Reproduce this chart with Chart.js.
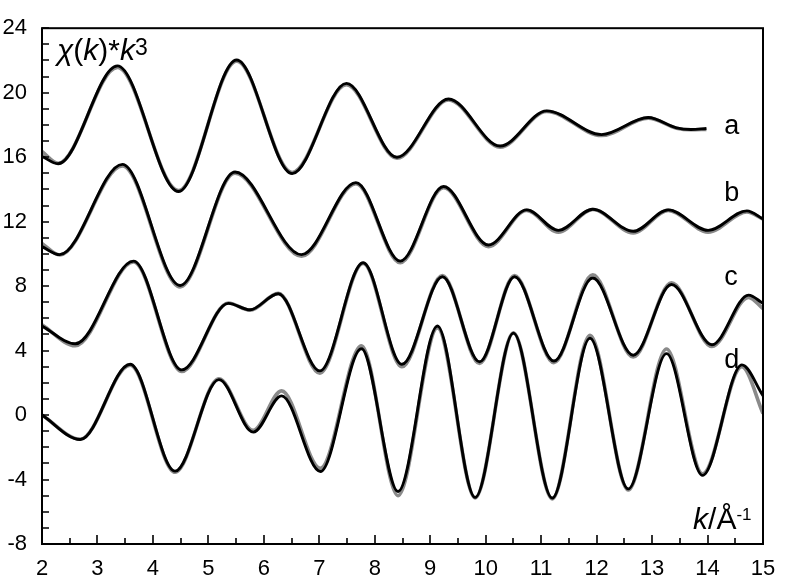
<!DOCTYPE html>
<html><head><meta charset="utf-8">
<script src="https://cdn.jsdelivr.net/npm/chart.js@4"></script>
<style>html,body{margin:0;padding:0;background:#fff}</style>
</head><body>
<canvas id="c" width="794" height="584"></canvas>
<script>
// ---- data ----
const kA   = [2.0, 2.29, 3.36, 4.46, 5.51, 6.51, 7.49, 8.40, 9.33, 10.26, 11.10, 12.09, 12.93, 13.44, 13.70, 13.98];
const expA = [16.05, 15.59, 21.66, 13.87, 22.03, 14.98, 20.58, 15.99, 19.61, 16.69, 18.87, 17.40, 18.46, 17.82, 17.72, 17.78];
const fitA = [16.35, 15.62, 21.56, 13.93, 21.95, 15.05, 20.50, 15.93, 19.55, 16.62, 18.83, 17.34, 18.42, 17.80, 17.70, 17.72];

const kB   = [2.0, 2.32, 3.45, 4.49, 5.48, 6.68, 7.66, 8.46, 9.24, 10.05, 10.74, 11.31, 11.93, 12.66, 13.29, 14.01, 14.71, 15.0];
const expB = [10.45, 9.95, 15.55, 8.04, 15.08, 9.95, 14.42, 9.55, 14.18, 10.55, 12.73, 11.46, 12.77, 11.40, 12.73, 11.46, 12.67, 12.17];
const fitB = [10.65, 9.93, 15.45, 7.95, 15.00, 9.85, 14.35, 9.45, 14.10, 10.45, 12.70, 11.35, 12.75, 11.30, 12.70, 11.35, 12.60, 12.15];

const kC   = [2.0, 2.60, 3.65, 4.52, 5.36, 5.75, 6.26, 7.01, 7.79, 8.49, 9.22, 9.89, 10.52, 11.23, 11.93, 12.66, 13.35, 14.08, 14.74, 15.0];
const expC = [5.52, 4.42, 9.55, 2.80, 6.93, 6.53, 7.53, 2.74, 9.45, 3.15, 8.58, 3.31, 8.58, 3.35, 8.50, 3.71, 8.10, 4.36, 7.44, 6.93];
const fitC = [5.60, 4.30, 9.50, 2.70, 6.95, 6.50, 7.55, 2.60, 9.40, 3.00, 8.65, 3.20, 8.65, 3.25, 8.70, 3.60, 8.20, 4.25, 7.30, 6.60];

const kD   = [2.0, 2.69, 3.59, 4.40, 5.19, 5.81, 6.32, 7.02, 7.76, 8.42, 9.13, 9.81, 10.50, 11.20, 11.88, 12.57, 13.26, 13.91, 14.62, 15.0];
const expD = [0.0, -1.52, 3.15, -3.48, 2.20, -1.06, 1.19, -3.50, 4.11, -4.74, 5.52, -5.11, 5.08, -5.15, 4.76, -4.58, 3.81, -3.74, 3.11, 1.20];
const fitD = [0.0, -1.50, 3.10, -3.55, 2.25, -0.95, 1.50, -3.30, 4.30, -5.00, 5.40, -5.15, 5.10, -5.20, 4.95, -4.65, 4.10, -3.65, 3.00, 0.10];

const curveNames = ['a', 'b', 'c', 'd'];
const xMin = 2, xMax = 15, xStep = 1;
const yMin = -8, yMax = 24, yStep = 4;

// ---- build ----
const FONT = '"Liberation Sans", Arial, Helvetica, sans-serif';
const toPts = (ks, ys) => ks.map((k, i) => ({x: k, y: ys[i]}));
const series = [[kA, expA, fitA], [kB, expB, fitB], [kC, expC, fitC], [kD, expD, fitD]];
const datasets = [];
series.forEach((s, i) => datasets.push({label: curveNames[i] + ' fit', data: toPts(s[0], s[2]), order: 2,
  borderColor: '#8a8a8a', borderWidth: 3.6, pointRadius: 0, cubicInterpolationMode: 'monotone', fill: false}));
series.forEach((s, i) => datasets.push({label: curveNames[i], data: toPts(s[0], s[1]), order: 1,
  borderColor: '#000', borderWidth: 2.9, pointRadius: 0, cubicInterpolationMode: 'monotone', fill: false}));

function rich(ctx, x, y, parts) {
  ctx.textBaseline = 'alphabetic'; ctx.textAlign = 'left';
  for (const p of parts) {
    ctx.font = p.f;
    ctx.fillText(p.t, x, y + (p.dy || 0));
    x += ctx.measureText(p.t).width;
  }
}

const decor = {
  id: 'decor',
  afterDatasetsDraw(chart) {
    const {ctx, chartArea: a, scales: {x, y}} = chart;
    ctx.save();
    ctx.strokeStyle = '#000'; ctx.lineWidth = 2;
    ctx.strokeRect(a.left, a.top, a.right - a.left, a.bottom - a.top);
    ctx.lineWidth = 1.6;
    ctx.beginPath();
    for (let v = xMin; v <= xMax + 1e-9; v += 0.5) {
      const px = Math.round(x.getPixelForValue(v));
      const len = Math.abs(v - Math.round(v)) < 1e-6 ? 9 : 6;
      ctx.moveTo(px, a.bottom); ctx.lineTo(px, a.bottom - len);
    }
    for (let v = yMin; v <= yMax + 1e-9; v += 1) {
      const py = Math.round(y.getPixelForValue(v));
      ctx.moveTo(a.left, py); ctx.lineTo(a.left + 7, py);
    }
    ctx.stroke();
    ctx.fillStyle = '#000';
    // curve labels
    ctx.font = '27px ' + FONT; ctx.textAlign = 'left'; ctx.textBaseline = 'alphabetic';
    const lx = x.getPixelForValue(14.3);
    const lb = [17.42, 13.25, 8.06, 2.93];
    curveNames.forEach((n, i) => ctx.fillText(n, lx, y.getPixelForValue(lb[i])));
    // y title
    const it = 'italic 30px ' + FONT, nf = '30px ' + FONT;
    rich(ctx, x.getPixelForValue(2.27), y.getPixelForValue(22.0), [
      {t: 'χ', f: it}, {t: '(', f: nf}, {t: 'k', f: it}, {t: ')', f: nf}, {t: '*', f: nf},
      {t: 'k', f: it}, {t: '3', f: '23px ' + FONT, dy: -5}]);
    // x title
    rich(ctx, x.getPixelForValue(13.74), y.getPixelForValue(-7.04), [
      {t: 'k', f: it}, {t: '/Å', f: nf}, {t: '-1', f: '17px ' + FONT, dy: -9}]);
    ctx.restore();
  }
};

new Chart(document.getElementById('c'), {
  type: 'line',
  data: {datasets},
  options: {
    responsive: false, animation: false, devicePixelRatio: 1,
    layout: {padding: {left: 0, top: 14, right: 31, bottom: 0}},
    plugins: {legend: {display: false}, tooltip: {enabled: false}},
    scales: {
      x: {type: 'linear', min: xMin, max: xMax,
        ticks: {stepSize: xStep, color: '#000', font: {family: FONT, size: 22}, padding: 12, maxRotation: 0, autoSkip: false},
        grid: {display: false, drawTicks: false}, border: {display: false},
        afterFit: s => { s.height = 40; }},
      y: {type: 'linear', min: yMin, max: yMax,
        ticks: {stepSize: yStep, color: '#000', font: {family: FONT, size: 22}, padding: 15},
        grid: {display: false, drawTicks: false}, border: {display: false},
        afterFit: s => { s.width = 42; }}
    }
  },
  plugins: [decor]
});
</script>
</body></html>
